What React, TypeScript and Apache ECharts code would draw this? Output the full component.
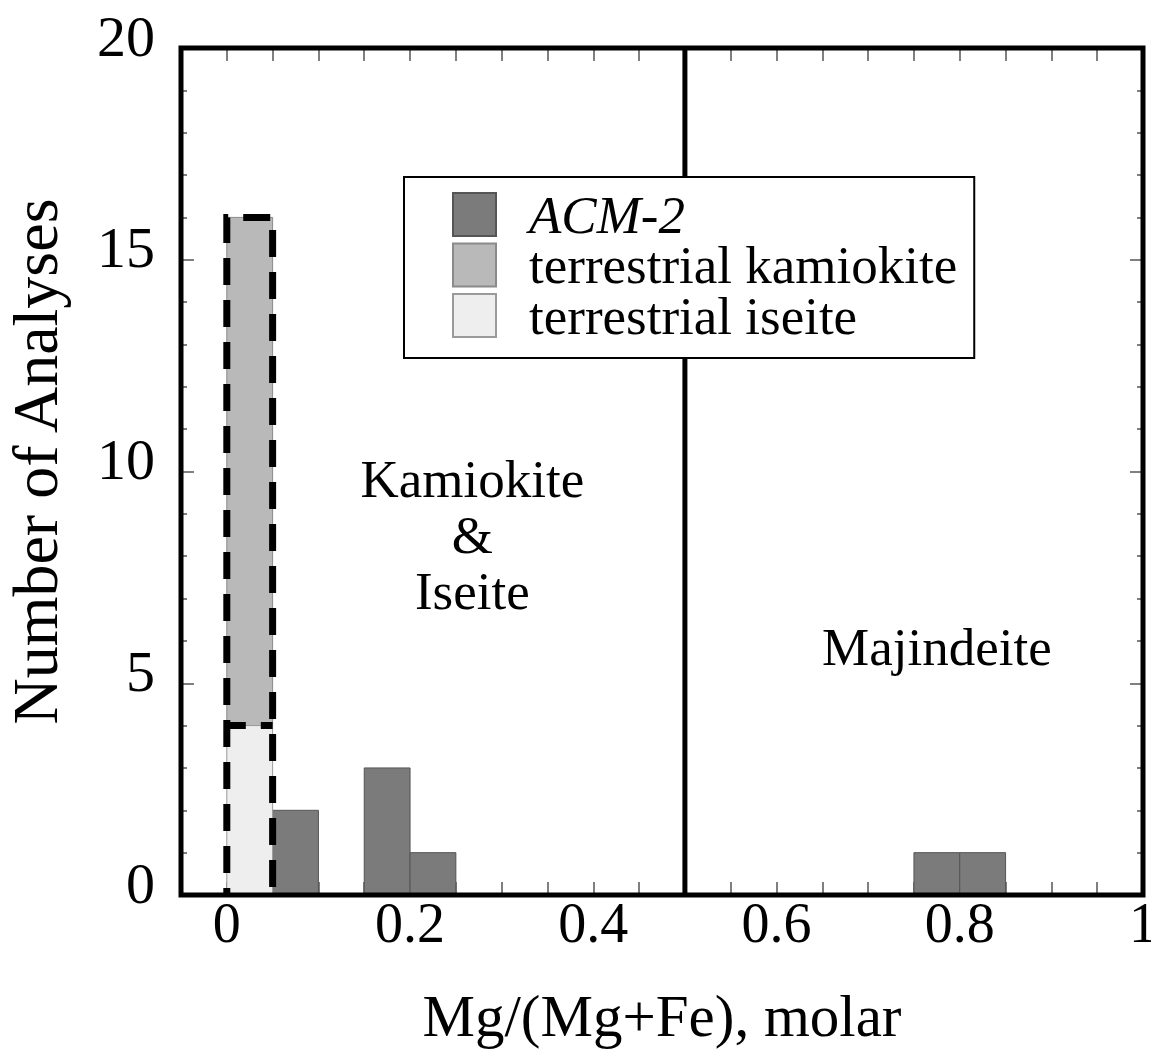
import React, { useEffect, useRef } from "react";
import * as echarts from "echarts";

const FONT = "'Liberation Serif', 'Times New Roman', serif";

// Histogram data (bin start, count), bin width 0.05
const BIN_WIDTH = 0.05;
const acmBinStarts = [0.05, 0.15, 0.2, 0.75, 0.8];
const acmCounts = [2, 3, 1, 1, 1];
const terrestrialBinStarts = [0];
const iseiteCounts = [4];
const kamiokiteCounts = [12]; // stacked on top of iseite

const seriesNames = ["ACM-2", "terrestrial kamiokite", "terrestrial iseite"];

const xLabelValues = [0, 0.2, 0.4, 0.6, 0.8, 1];
const xTickLabels = ["0", "0.2", "0.4", "0.6", "0.8", "1"];
const X_MIN = -0.05;
const X_MAX = 1;
const Y_MIN = 0;
const Y_MAX = 20;

const fieldBoundary = [0.5];
const fieldLabelTexts = ["Kamiokite\n&\nIseite", "Majindeite"];
const fieldLabelX = [0.268, 0.775];
const fieldLabelY = [8.5, 5.85];

const COLORS = {
  acm: { fill: "#7b7b7b", stroke: "#555555" },
  kam: { fill: "#b9b9b9", stroke: "#8a8a8a" },
  ise: { fill: "#eeeeee", stroke: "#9a9a9a" },
};

function barRender(fill: string, stroke: string) {
  return (params: any, api: any) => {
    const x0 = api.value(0);
    const count = api.value(1);
    const base = api.value(2);
    const pTop = api.coord([x0, base + count]);
    const pBot = api.coord([x0 + BIN_WIDTH, base]);
    return {
      type: "rect",
      shape: {
        x: pTop[0],
        y: pTop[1],
        width: pBot[0] - pTop[0],
        height: pBot[1] - pTop[1],
      },
      style: { fill, stroke, lineWidth: 1 },
    };
  };
}

export default function App() {
  const ref = useRef<HTMLDivElement>(null);

  useEffect(() => {
    if (!ref.current) return;
    const chart = echarts.init(ref.current, null, { renderer: "svg" });

    const acmData = acmBinStarts.map((x, i) => [x, acmCounts[i], 0]);
    const iseData = terrestrialBinStarts.map((x, i) => [x, iseiteCounts[i], 0]);
    const kamData = terrestrialBinStarts.map((x, i) => [x, kamiokiteCounts[i], iseiteCounts[i]]);
    const outlineData = terrestrialBinStarts.map((x, i) => [
      x,
      iseiteCounts[i] + kamiokiteCounts[i],
      iseiteCounts[i],
    ]);

    const tickStyle = { color: "#555", width: 1.5 };

    const xFormatter = (v: number) => {
      const idx = xLabelValues.findIndex((t) => Math.abs(t - v) < 1e-6);
      return idx >= 0 ? xTickLabels[idx] : "";
    };

    const hiddenLine = { show: false, onZero: false };

    const option: any = {
      animation: false,
      backgroundColor: "#fff",
      grid: {
        left: 181,
        right: 8,
        top: 48,
        bottom: 154,
        containLabel: false,
        outerBoundsMode: "none",
        show: true,
        borderColor: "#000",
        borderWidth: 5,
        backgroundColor: "transparent",
        z: 10,
      },
      legend: {
        data: seriesNames,
        orient: "vertical",
        left: 404,
        top: 177,
        icon: "rect",
        itemWidth: 43,
        itemHeight: 43,
        itemGap: -2.5,
        backgroundColor: "#fff",
        borderColor: "#000",
        borderWidth: 2,
        padding: [11, 17, 16, 48],
        selectedMode: false,
        textStyle: {
          fontFamily: FONT,
          fontSize: 53,
          color: "#000",
          padding: [0, 0, 0, 28],
          rich: {
            it: { fontFamily: FONT, fontSize: 53, fontStyle: "italic", color: "#000" },
            n: { fontFamily: FONT, fontSize: 53, color: "#000" },
          },
        },
        formatter: (n: string) => (n === "ACM-2" ? `{it|${n}}` : `{n|${n}}`),
      },
      xAxis: [
        {
          type: "value",
          position: "bottom",
          min: X_MIN,
          max: X_MAX,
          interval: 0.05,
          axisLine: hiddenLine,
          axisTick: { show: true, inside: true, length: 13, lineStyle: tickStyle },
          splitLine: { show: false },
          axisLabel: {
            formatter: xFormatter,
            fontFamily: FONT,
            fontSize: 56,
            color: "#000",
            margin: 0,
          },
          name: "Mg/(Mg+Fe), molar",
          nameLocation: "middle",
          nameGap: 91,
          nameTextStyle: { fontFamily: FONT, fontSize: 59, color: "#000" },
        },
        {
          type: "value",
          position: "top",
          min: X_MIN,
          max: X_MAX,
          interval: 0.05,
          axisLine: hiddenLine,
          axisTick: { show: true, inside: true, length: 13, lineStyle: tickStyle },
          splitLine: { show: false },
          axisLabel: { show: false },
        },
      ],
      yAxis: [
        {
          type: "value",
          position: "left",
          min: Y_MIN,
          max: Y_MAX,
          interval: 5,
          axisLine: hiddenLine,
          axisTick: { show: true, inside: true, length: 13, lineStyle: tickStyle },
          minorTick: { show: true, splitNumber: 5, length: 6, lineStyle: tickStyle },
          splitLine: { show: false },
          minorSplitLine: { show: false },
          axisLabel: {
            fontFamily: FONT,
            fontSize: 58,
            color: "#000",
            margin: 26,
            verticalAlign: "bottom",
            lineHeight: 24,
          },
          name: "Number of Analyses",
          nameLocation: "middle",
          nameGap: 114,
          nameRotate: 90,
          nameTextStyle: { fontFamily: FONT, fontSize: 64, color: "#000", padding: [0, 0, 0, 20] },
        },
        {
          type: "value",
          position: "right",
          min: Y_MIN,
          max: Y_MAX,
          interval: 5,
          axisLine: hiddenLine,
          axisTick: { show: true, inside: true, length: 13, lineStyle: tickStyle },
          minorTick: { show: true, splitNumber: 5, length: 6, lineStyle: tickStyle },
          splitLine: { show: false },
          minorSplitLine: { show: false },
          axisLabel: { show: false },
        },
      ],
      series: [
        {
          name: "ACM-2",
          type: "custom",
          coordinateSystem: "cartesian2d",
          itemStyle: { color: COLORS.acm.fill, borderColor: COLORS.acm.stroke, borderWidth: 1 },
          renderItem: barRender(COLORS.acm.fill, COLORS.acm.stroke),
          data: acmData,
          z: 3,
        },
        {
          name: "terrestrial kamiokite",
          type: "custom",
          coordinateSystem: "cartesian2d",
          itemStyle: { color: COLORS.kam.fill, borderColor: COLORS.kam.stroke, borderWidth: 1 },
          renderItem: barRender(COLORS.kam.fill, COLORS.kam.stroke),
          data: kamData,
          z: 3,
        },
        {
          name: "terrestrial iseite",
          type: "custom",
          coordinateSystem: "cartesian2d",
          itemStyle: { color: COLORS.ise.fill, borderColor: COLORS.ise.stroke, borderWidth: 1 },
          renderItem: barRender(COLORS.ise.fill, COLORS.ise.stroke),
          data: iseData,
          z: 3,
        },
        {
          name: "outline",
          type: "custom",
          coordinateSystem: "cartesian2d",
          renderItem: (params: any, api: any) => {
            const x0 = api.value(0);
            const top = api.value(1);
            const mid = api.value(2);
            const x1 = x0 + BIN_WIDTH;
            const a = api.coord([x0, Y_MIN]);
            const b = api.coord([x0, top]);
            const c = api.coord([x1, top]);
            const d = api.coord([x1, Y_MIN]);
            const m0 = api.coord([x0, mid]);
            const m1 = api.coord([x1, mid]);
            const style = { stroke: "#000", lineWidth: 7, lineDash: [27, 15], lineDashOffset: 20, fill: null };
            return {
              type: "group",
              children: [
                { type: "polyline", shape: { points: [a, b, c, d] }, style },
                { type: "line", shape: { x1: m0[0], y1: m0[1], x2: m1[0], y2: m1[1] }, style: { ...style, lineDashOffset: 8 } },
              ],
            };
          },
          data: outlineData,
          z: 4,
        },
        {
          name: "boundary",
          type: "custom",
          coordinateSystem: "cartesian2d",
          renderItem: (params: any, api: any) => {
            const x = api.value(0);
            const p0 = api.coord([x, Y_MIN]);
            const p1 = api.coord([x, Y_MAX]);
            return {
              type: "line",
              shape: { x1: p0[0], y1: p0[1], x2: p1[0], y2: p1[1] },
              style: { stroke: "#000", lineWidth: 5 },
            };
          },
          data: fieldBoundary.map((v) => [v, Y_MIN]),
          z: 2,
        },
        {
          name: "fieldLabels",
          type: "custom",
          coordinateSystem: "cartesian2d",
          renderItem: (params: any, api: any) => {
            const p = api.coord([api.value(0), api.value(1)]);
            return {
              type: "text",
              x: p[0],
              y: p[1],
              style: {
                text: fieldLabelTexts[params.dataIndex],
                fontFamily: FONT,
                fontSize: 53,
                lineHeight: 56,
                fill: "#000",
                align: "center",
                verticalAlign: "middle",
              },
            };
          },
          data: fieldLabelX.map((x, i) => [x, fieldLabelY[i]]),
          z: 5,
        },
      ],
    };

    chart.setOption(option);
    return () => chart.dispose();
  }, []);

  return (
    <div
      ref={ref}
      style={{ position: "absolute", left: 0, top: 0, width: 1151, height: 1049 }}
    />
  );
}
